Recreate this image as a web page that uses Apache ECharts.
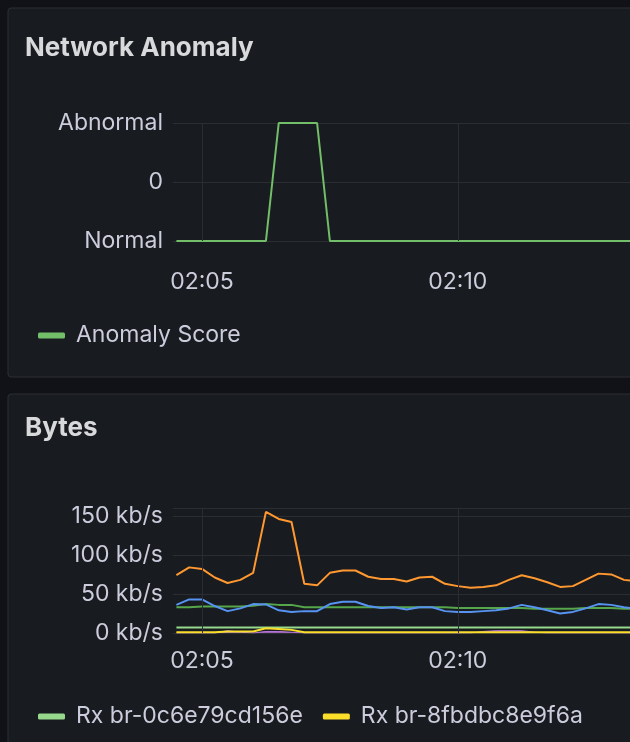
<!DOCTYPE html>
<html>
<head>
<meta charset="utf-8">
<script src="https://cdn.jsdelivr.net/npm/echarts@6/dist/echarts.min.js"></script>
<style>
html,body{margin:0;padding:0;background:#111217;}
#main{width:630px;height:742px;}
</style>
</head>
<body>
<div id="main"></div>
<script>
// 15 s samples, starting 02:04:30
var startTime = Date.UTC(2024, 0, 1, 2, 4, 30);
var step = 15000;
var gridTimes = [Date.UTC(2024, 0, 1, 2, 5, 0), Date.UTC(2024, 0, 1, 2, 10, 0)];

var anomalyScore = [-1,-1,-1,-1,-1,-1,-1,-1,1,1,1,1,-1,-1,-1,-1,-1,-1,-1,-1,-1,-1,-1,-1,-1,-1,-1,-1,-1,-1,-1,-1,-1,-1,-1,-1,-1];
var anomalyLabels = {'-1': 'Normal', '0': '0', '1': 'Abnormal'};

// kb/s
var rxOrange = [74,84,82,71,64,68,77,155,146,142,63,61,77,80,80,72,69,69,66,71,72,63,60,58,59,61,68,74,70,65,59,60,68,76,75,68,66];
var rxBlue = [36,43,43,34.5,28,31.5,37,36.6,29,27,28,28,37,40,40,34.5,32,33,30,33,33,28,27,27,28,29,31.5,36,33,29,25,27,31.5,37,36,33,31];
var rxDarkGreen = [33,33,34,34,34,34,35,37,36,36,33,33,33,33,33,33,33,33,33,33,33,33,32,32,32,32,32,32,31,31,31,31,32,32,32,31,31];
var rxGreen = [7,7,7,7,7,7,7,7,7,7,7,7,7,7,7,7,7,7,7,7,7,7,7,7,7,7,7,7,7,7,7,7,7,7,7,7,7];
var rxYellow = [1,1,1,1,2,2,2,6,5,4,1,1,1,1,1,1,1,1,1,1,1,1,1,1,1,1,1,1,1,1,1,1,1,1,1,1,1];
var rxPurple = [0,0,0,0,3,1,0,2,2,1,0,0,0,0,0,0,0,0,0,0,0,0,0,0,2,3,3,3,1,0,0,0,0,0,0,0,0];

function pairs(arr){
  return arr.map(function(v,i){ return [startTime + i*step, v]; });
}

var xMin = Date.UTC(2024, 0, 1, 2, 4, 26);
var xMax = Date.UTC(2024, 0, 1, 2, 13, 22);
var txt = '#ccccdc';
var gridLine = '#2b2d32';
var fontFam = 'Inter';

function xAxisFor(idx, margin){
  return {
    type:'time', gridIndex:idx, min:xMin, max:xMax,
    axisLine:{show:false}, axisTick:{show:false},
    splitLine:{show:false},
    axisLabel:{color:txt, fontSize:23, fontFamily:fontFam, margin:margin, showMinLabel:false, showMaxLabel:false,
      formatter:function(v){
        var d = new Date(v);
        if (d.getUTCMinutes() % 5 !== 0 || d.getUTCSeconds() !== 0) return '';
        return '0' + d.getUTCHours() + ':' + ('0' + d.getUTCMinutes()).slice(-2);
      }}
  };
}

function vLines(){
  return {silent:true, symbol:'none', label:{show:false},
    lineStyle:{color:gridLine, type:'solid', width:1},
    data:gridTimes.map(function(t){ return {xAxis:t}; })};
}

var myChart = echarts.init(document.getElementById('main'));
var option = {
  useUTC:true,
  backgroundColor:'#111217',
  animation:false,
  graphic:[
    {type:'rect', shape:{x:8, y:8, width:640, height:369, r:3}, style:{fill:'#181b1f', stroke:'#2c2e34', lineWidth:1}, z:-10},
    {type:'rect', shape:{x:8, y:394, width:640, height:400, r:3}, style:{fill:'#181b1f', stroke:'#2c2e34', lineWidth:1}, z:-10},
    {type:'text', left:25, top:35, style:{text:'Network Anomaly', fill:'#d8d9da', font:'bold 26px Inter'}},
    {type:'text', left:25, top:415, style:{text:'Bytes', fill:'#d8d9da', font:'bold 26px Inter'}}
  ],
  grid:[
    {left:173, right:0, top:123, height:118},
    {left:173, right:0, top:508, height:125}
  ],
  xAxis:[xAxisFor(0, 30), xAxisFor(1, 17)],
  yAxis:[
    {type:'value', gridIndex:0, min:-1, max:1, interval:1,
     axisLine:{show:false}, axisTick:{show:false},
     splitLine:{lineStyle:{color:gridLine}},
     axisLabel:{color:txt, fontSize:23, fontFamily:fontFam, margin:10, formatter:function(v){ return anomalyLabels[String(v)]; }}},
    {type:'value', gridIndex:1, min:0, max:160, interval:50,
     axisLine:{show:false}, axisTick:{show:false},
     splitLine:{lineStyle:{color:gridLine}},
     axisLabel:{color:txt, fontSize:23, fontFamily:fontFam, margin:10, showMaxLabel:false,
       formatter:function(v){ return v > 150 ? '' : v + ' kb/s'; }}}
  ],
  legend:[
    {data:['Anomaly Score'], left:33, top:319, icon:'roundRect', itemWidth:27, itemHeight:6,
     textStyle:{color:txt, fontSize:23, fontFamily:fontFam, padding:[0,0,0,6]}},
    {data:['Rx br-0c6e79cd156e','Rx br-8fbdbc8e9f6a'], left:33, top:700, icon:'roundRect', itemWidth:27, itemHeight:6, itemGap:20,
     textStyle:{color:txt, fontSize:23, fontFamily:fontFam, padding:[0,0,0,6]}}
  ],
  series:[
    {name:'Anomaly Score', type:'line', xAxisIndex:0, yAxisIndex:0, data:pairs(anomalyScore), showSymbol:false, lineStyle:{width:2}, color:'#73bf69', markLine:vLines()},
    {name:'Rx br-0c6e79cd156e', type:'line', xAxisIndex:1, yAxisIndex:1, data:pairs(rxGreen), showSymbol:false, lineStyle:{width:2}, color:'#96d98d', markLine:vLines()},
    {name:'Rx br-8fbdbc8e9f6a', type:'line', xAxisIndex:1, yAxisIndex:1, data:pairs(rxYellow), showSymbol:false, lineStyle:{width:2}, color:'#fade2a', z:4},
    {name:'Rx br-purple', type:'line', xAxisIndex:1, yAxisIndex:1, data:pairs(rxPurple), showSymbol:false, lineStyle:{width:1}, areaStyle:{opacity:0.8}, color:'#b877d9', z:3},
    {name:'Rx br-darkgreen', type:'line', xAxisIndex:1, yAxisIndex:1, data:pairs(rxDarkGreen), showSymbol:false, lineStyle:{width:2}, color:'#56a64b'},
    {name:'Rx br-blue', type:'line', xAxisIndex:1, yAxisIndex:1, data:pairs(rxBlue), showSymbol:false, lineStyle:{width:2}, color:'#5794f2'},
    {name:'Rx br-orange', type:'line', xAxisIndex:1, yAxisIndex:1, data:pairs(rxOrange), showSymbol:false, lineStyle:{width:2}, color:'#ff9830'}
  ]
};
myChart.setOption(option);
</script>
</body>
</html>
